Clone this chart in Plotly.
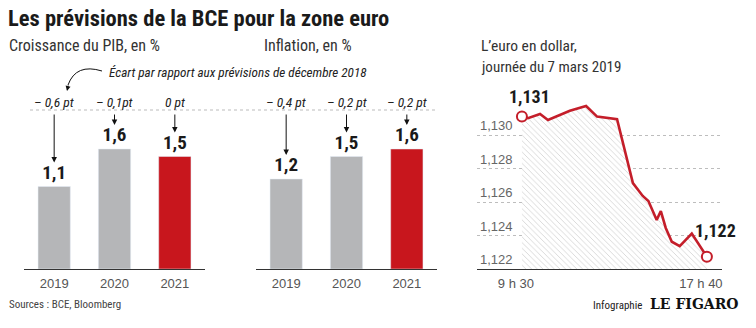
import plotly.graph_objects as go

# ---------------- data ----------------
years = ["2019", "2020", "2021"]
gdp_values = [1.1, 1.6, 1.5]
gdp_deltas = ["– 0,6 pt", "– 0,1pt", "0 pt"]
infl_values = [1.2, 1.5, 1.6]
infl_deltas = ["– 0,4 pt", "– 0,2 pt", "– 0,2 pt"]
bar_colors = ["#b5b6b8", "#b5b6b8", "#c8161d"]

fx_times = ["09:30", "09:46", "10:18", "10:39", "11:37", "12:20", "12:49", "13:42",
            "14:24", "14:50", "15:05", "15:27", "15:38", "15:51", "16:07", "16:28",
            "17:00", "17:40"]
fx_values = [1.1311, 1.1310, 1.13125, 1.1309, 1.13145, 1.13173, 1.1311, 1.13094,
             1.12713, 1.12636, 1.12606, 1.12493, 1.12546, 1.12445, 1.12363, 1.12337,
             1.12412, 1.12273]
fx_start_label = "1,131"
fx_end_label = "1,122"
fx_ticks = ["09:30", "17:40"]
fx_ticktext = ["9 h 30", "17 h 40"]
fx_yticks = [1.122, 1.124, 1.126, 1.128, 1.130]

DAY = "2019-03-07 "
fx_x = [DAY + t for t in fx_times]

# ---------------- helpers ----------------
W, H = 756, 328
def px(x):
    return x / W
def py(y):
    return 1 - y / H

COND = "Liberation Sans Narrow, Roboto Condensed, Arial Narrow, sans-serif"
REG = "Liberation Sans, Arial, sans-serif"
DARK = "#1a1a1a"
RED = "#c41e2a"

BASE = 269
PXU = 75.0  # px per unit in bar charts
bar_top_px = 100
bar_range = [0, (BASE - bar_top_px) / PXU]

fig = go.Figure()

fig.add_trace(go.Bar(x=years, y=gdp_values, marker_color=bar_colors, width=0.535,
                     texttemplate="%{y:.1f}", textposition="outside", cliponaxis=False,
                     textfont=dict(family=COND, size=19, color=DARK, weight="bold"),
                     xaxis="x", yaxis="y", showlegend=False, hoverinfo="skip"))
fig.add_trace(go.Bar(x=years, y=infl_values, marker_color=bar_colors, width=0.535,
                     texttemplate="%{y:.1f}", textposition="outside", cliponaxis=False,
                     textfont=dict(family=COND, size=19, color=DARK, weight="bold"),
                     xaxis="x2", yaxis="y2", showlegend=False, hoverinfo="skip"))

fig.add_trace(go.Scatter(x=fx_x, y=fx_values, mode="lines", fill="tozeroy",
                         line=dict(color=RED, width=2.6),
                         fillcolor="rgba(0,0,0,0)",
                         fillpattern=dict(shape="\\", fgcolor="#999999", bgcolor="white",
                                          size=4, solidity=0.18),
                         xaxis="x3", yaxis="y3", showlegend=False, hoverinfo="skip"))
fig.add_trace(go.Scatter(x=[fx_x[0], fx_x[-1]], y=[fx_values[0], fx_values[-1]],
                         mode="markers", cliponaxis=False,
                         marker=dict(symbol="circle", size=10, color="white",
                                     line=dict(color=RED, width=2)),
                         xaxis="x3", yaxis="y3", showlegend=False, hoverinfo="skip"))

tickfont = dict(family=REG, size=13, color="#555")
common_x = dict(type="category", showline=True, linecolor="#333", linewidth=1,
                ticks="", showgrid=False, zeroline=False, tickfont=tickfont,
                ticklabelstandoff=2, fixedrange=True)
common_y = dict(range=bar_range, visible=False, fixedrange=True,
                domain=[py(BASE), py(bar_top_px)])

fx_top_px = 90
fx_pxu = 134 / 0.008
fx_yrange = [1.122, 1.122 + (BASE - fx_top_px) / fx_pxu]

fig.update_layout(
    width=W, height=H, margin=dict(l=0, r=0, t=0, b=0),
    paper_bgcolor="white", plot_bgcolor="white",
    separators=", ",
    bargap=0.45,
    xaxis=dict(domain=[px(24), px(205)], anchor="y", **common_x),
    yaxis=dict(anchor="x", **common_y),
    xaxis2=dict(domain=[px(256), px(437)], anchor="y2", **common_x),
    yaxis2=dict(anchor="x2", **common_y),
    xaxis3=dict(domain=[px(477), px(722)], anchor="y3", type="date",
                range=[DAY + "07:31", DAY + "18:20"],
                tickvals=[DAY + t for t in fx_ticks], ticktext=fx_ticktext,
                showline=True, linecolor="#333", linewidth=1, ticks="",
                showgrid=False, zeroline=False, tickfont=tickfont,
                ticklabelstandoff=2, ticklabelshift=-6, fixedrange=True),
    yaxis3=dict(domain=[py(BASE), py(fx_top_px)], anchor="x3", range=fx_yrange,
                tickvals=fx_yticks, tickformat=".3f", ticklabelposition="inside top",
                showgrid=True, gridcolor="#bdbdbd", griddash="dot", gridwidth=1,
                zeroline=False, showline=False, ticks="",
                tickfont=dict(family=REG, size=13, color="#666"), fixedrange=True),
)

ann = []
def text(x, y, s, size, color=DARK, family=COND, anchor="left", bold=False,
         italic=False, yanchor="middle"):
    ann.append(dict(x=px(x), y=py(y), xref="paper", yref="paper", text=s,
                    showarrow=False, xanchor=anchor, yanchor=yanchor,
                    font=dict(family=family, size=size, color=color,
                              weight="bold" if bold else "normal",
                              style="italic" if italic else "normal")))

text(6, 18, "Les prévisions de la BCE pour la zone euro", 22.5, bold=True)
text(7, 45, "Croissance du PIB, en %", 16, color="#333")
text(262, 45, "Inflation, en %", 16, color="#333")
text(479, 46, "L’euro en dollar,", 15.5, color="#333")
text(479, 67, "journée du 7 mars 2019", 15, color="#333")
text(107, 73, "Écart par rapport aux prévisions de décembre 2018", 13.2, italic=True, color="#222")
text(7, 304, "Sources : BCE, Bloomberg", 11, color="#444")
text(644, 305, "Infographie", 11, color="#222", anchor="right")
text(648, 304, "LE FIGARO", 14, color="#111", family="DejaVu Serif, serif", anchor="left", bold=True)

# delta labels + arrows
arrow_start = (BASE - 113) / PXU
for xa, ya, vals, deltas in [("x", "y", gdp_values, gdp_deltas), ("x2", "y2", infl_values, infl_deltas)]:
    for i, (v, d) in enumerate(zip(vals, deltas)):
        ann.append(dict(x=i, y=py(102), xref=xa, yref="paper", text=d, showarrow=False,
                        xanchor="center", yanchor="middle",
                        font=dict(family=COND, size=13.5, color="#222", style="italic")))
        ann.append(dict(x=i, y=v + 0.32, xref=xa, yref=ya, ax=i, ay=arrow_start,
                        axref=xa, ayref=ya, text="", showarrow=True, arrowhead=2,
                        arrowsize=1.1, arrowwidth=1, arrowcolor="#111"))

# line chart value labels
ann.append(dict(x=fx_x[0], y=fx_values[0], xref="x3", yref="y3", text=fx_start_label,
                showarrow=False, xanchor="center", yanchor="bottom", yshift=8, xshift=8,
                font=dict(family=COND, size=18, color=DARK, weight="bold")))
ann.append(dict(x=fx_x[-1], y=fx_values[-1], xref="x3", yref="y3", text=fx_end_label,
                showarrow=False, xanchor="center", yanchor="bottom", yshift=14, xshift=9,
                font=dict(family=COND, size=18, color=DARK, weight="bold")))

# curved arrow head
ann.append(dict(x=px(67), y=py(91), xref="paper", yref="paper", ax=1.5, ay=-7,
                text="", showarrow=True, arrowhead=2, arrowsize=1, arrowwidth=1,
                arrowcolor="#111"))

fig.update_layout(annotations=ann)

fig.add_shape(type="line", xref="paper", yref="paper", x0=px(30), x1=px(437),
              y0=py(110), y1=py(110), line=dict(color="#bbbbbb", width=1, dash="dot"))
fig.add_shape(type="path", xref="paper", yref="paper",
              path=f"M {px(102)},{py(71)} Q {px(76)},{py(63)} {px(68)},{py(85)}",
              line=dict(color="#111", width=1))

fig.write_html("out.html")
